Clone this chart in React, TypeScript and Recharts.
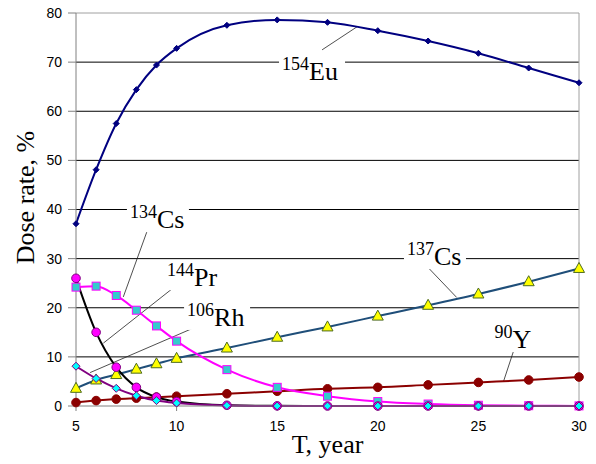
import { LineChart, Line, XAxis, YAxis, ReferenceLine, ReferenceDot, Label } from "recharts"

const years = [5, 6, 7, 8, 9, 10, 12.5, 15, 17.5, 20, 22.5, 25, 27.5, 30]
const eu154 = [37.1, 48.1, 57.5, 64.4, 69.4, 72.8, 77.5, 78.6, 78.1, 76.4, 74.3, 71.8, 68.8, 65.8]
const cs137 = [3.6, 5.3, 6.4, 7.5, 8.6, 9.7, 11.8, 14.0, 16.1, 18.3, 20.5, 22.8, 25.3, 28.0]
const y90 = [0.7, 1.1, 1.4, 1.6, 1.8, 2.0, 2.5, 3.0, 3.5, 3.8, 4.3, 4.8, 5.3, 5.9]
const cs134 = [24.2, 24.4, 22.5, 19.5, 16.3, 13.2, 7.4, 3.8, 2.0, 0.9, 0.4, 0.15, 0.06, 0.02]
const pr144 = [26.0, 15.0, 7.9, 3.8, 1.8, 0.9, 0.15, 0.03, 0, 0, 0, 0, 0, 0]
const rh106 = [8.1, 5.6, 3.6, 2.1, 1.1, 0.6, 0.1, 0, 0, 0, 0, 0, 0, 0]

const xTicks = [5, 10, 15, 20, 25, 30]
const yTicks = [0, 10, 20, 30, 40, 50, 60, 70, 80]

// label anchors (left, baseline) and leader segments, in data units
const labels = [
  { sup: "154", main: "Eu", x: 15.24, y: 66.4, w: 60, from: [17.23, 72.5], to: [18.97, 77.2] },
  { sup: "134", main: "Cs", x: 7.68, y: 36.2, w: 56, from: [8.64, 36.8], to: [7.35, 22.2] },
  { sup: "144", main: "Pr", x: 9.52, y: 24.4, w: 53, from: [10.13, 25.0], to: [6.36, 12.8] },
  { sup: "106", main: "Rh", x: 10.52, y: 16.3, w: 60, from: [11.36, 16.8], to: [5.7, 6.8] },
  { sup: "137", main: "Cs", x: 21.45, y: 28.7, w: 56, from: [22.45, 28.4], to: [23.92, 22.1] },
  { sup: "90", main: "Y", x: 25.8, y: 11.8, w: 40, from: [26.82, 12.1], to: [26.24, 4.9] },
]

const data = years.map((t, i) => ({
  t,
  eu154: eu154[i],
  cs137: cs137[i],
  y90: y90[i],
  cs134: cs134[i],
  pr144: pr144[i],
  rh106: rh106[i],
}))

const serif = "'Liberation Serif', 'Times New Roman', serif"
const sans = "'Liberation Sans', Arial, sans-serif"

const diamond = (fill: string, stroke: string, r: number) => (p: any) => {
  const { cx, cy, index } = p
  if (cx == null || cy == null) return <g key={index} />
  return (
    <polygon
      key={index}
      points={`${cx},${cy - r} ${cx + r},${cy} ${cx},${cy + r} ${cx - r},${cy}`}
      fill={fill}
      stroke={stroke}
      strokeWidth={1}
    />
  )
}

const triangle = (p: any) => {
  const { cx, cy, index } = p
  if (cx == null || cy == null) return <g key={index} />
  return (
    <polygon
      key={index}
      points={`${cx},${cy - 6} ${cx + 5.5},${cy + 4} ${cx - 5.5},${cy + 4}`}
      fill="#ffff00"
      stroke="#4d6b1f"
      strokeWidth={1}
    />
  )
}

const square = (p: any) => {
  const { cx, cy, index } = p
  if (cx == null || cy == null) return <g key={index} />
  return <rect key={index} x={cx - 4} y={cy - 4} width={8} height={8} fill="#33cccc" stroke="#ff00ff" strokeWidth={1} />
}

const circle = (fill: string, stroke: string) => (p: any) => {
  const { cx, cy, index } = p
  if (cx == null || cy == null) return <g key={index} />
  return <circle key={index} cx={cx} cy={cy} r={4.3} fill={fill} stroke={stroke} strokeWidth={1} />
}

const isoLabel = (sup: string, main: string, w: number) => (p: any) => {
  const { cx, cy } = p
  return (
    <g>
      <rect x={cx - 3} y={cy - 26} width={w + 6} height={30} fill="#fff" />
      <text x={cx} y={cy} fontFamily={serif} fill="#000">
        <tspan fontFamily={serif} fontSize={18} dy={-10}>{sup}</tspan>
        <tspan fontFamily={serif} fontSize={26} dy={10}>{main}</tspan>
      </text>
    </g>
  )
}

const yTitle = (p: any) => {
  const { viewBox } = p
  const cx = 25
  const cy = viewBox.y + viewBox.height / 2 - 12
  return (
    <text x={cx} y={cy} transform={`rotate(-90 ${cx} ${cy})`} textAnchor="middle" dominantBaseline="central" style={{ fontFamily: serif, fontSize: 26 }} fill="#000">
      Dose rate, %
    </text>
  )
}

const xTitle = (p: any) => {
  const { viewBox } = p
  return (
    <text x={viewBox.x + viewBox.width / 2} y={453} textAnchor="middle" style={{ fontFamily: serif, fontSize: 26 }} fill="#000">
      T, year
    </text>
  )
}

export default function App() {
  return (
    <div style={{ position: "absolute", left: 0, top: 0, background: "#fff" }}>
      <LineChart width={596} height={464} data={data} margin={{ top: 13, right: 17, left: 16, bottom: 28 }}>
        <XAxis
          dataKey="t"
          type="number"
          domain={[5, 30]}
          ticks={xTicks}
          tickSize={5}
          tickMargin={10}
          stroke="#808080"
          tick={{ fill: "#000", fontSize: 14, fontFamily: sans }}
          height={30}
        >
          <Label content={xTitle} />
        </XAxis>
        <YAxis
          type="number"
          domain={[0, 80]}
          ticks={yTicks}
          tickSize={8}
          tickMargin={6}
          stroke="#808080"
          width={60}
          tick={{ fill: "#000", fontSize: 14, fontFamily: sans }}
        >
          <Label content={yTitle} />
        </YAxis>
        {yTicks.slice(1, -1).map((v) => (
          <ReferenceLine key={v} y={v} stroke="#000" strokeWidth={1} />
        ))}
        <ReferenceLine y={80} stroke="#a0a0a0" strokeWidth={1} />
        <ReferenceLine x={30} stroke="#a0a0a0" strokeWidth={1} />
        {labels.map((l) => (
          <ReferenceLine
            key={"s" + l.sup}
            segment={[
              { x: l.from[0], y: l.from[1] },
              { x: l.to[0], y: l.to[1] },
            ]}
            stroke="#222"
            strokeWidth={0.8}
          />
        ))}
        {labels.map((l) => (
          <ReferenceDot key={"d" + l.sup} x={l.x} y={l.y} r={0} shape={isoLabel(l.sup, l.main, l.w)} />
        ))}
        <Line type="monotone" dataKey="eu154" stroke="#000080" strokeWidth={2} dot={diamond("#000080", "#000080", 3)} isAnimationActive={false} />
        <Line type="monotone" dataKey="cs137" stroke="#1f4e79" strokeWidth={2} dot={triangle} isAnimationActive={false} />
        <Line type="monotone" dataKey="y90" stroke="#8b0000" strokeWidth={2} dot={circle("#8b0000", "#8b0000")} isAnimationActive={false} />
        <Line type="monotone" dataKey="cs134" stroke="#ff00ff" strokeWidth={2} dot={square} isAnimationActive={false} />
        <Line type="monotone" dataKey="pr144" stroke="#000" strokeWidth={2} dot={circle("#ff00ff", "#800080")} isAnimationActive={false} />
        <Line type="monotone" dataKey="rh106" stroke="#800080" strokeWidth={2} dot={diamond("#00ffff", "#800080", 4)} isAnimationActive={false} />
      </LineChart>
    </div>
  )
}
